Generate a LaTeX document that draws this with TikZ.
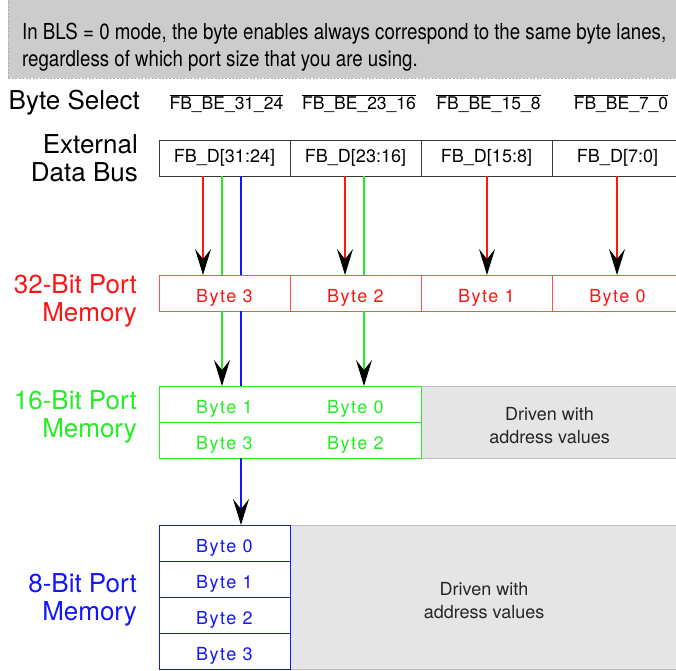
\documentclass[tikz,border=0pt]{standalone}
\usepackage{fontspec}
\setmainfont{TeX Gyre Heros}
\newfontfamily\narrowfont[FakeStretch=0.85]{TeX Gyre Heros}
\newfontfamily\trackedfont[LetterSpace=8]{TeX Gyre Heros}
\usetikzlibrary{arrows.meta,positioning,backgrounds}
\definecolor{PortRed}{HTML}{FF1414}
\definecolor{PortGreen}{HTML}{22EE22}
\definecolor{PortBlue}{HTML}{1414FF}
\definecolor{BusLine}{HTML}{3A3A3A}
\definecolor{NoteGray}{HTML}{CCCCCC}
\definecolor{NoteEdge}{HTML}{AFAFAF}
\definecolor{DrivenGray}{HTML}{E5E5E5}
\definecolor{DrivenEdge}{HTML}{BDBDBD}
\tikzset{
  cell/.style={minimum width=131pt,minimum height=36pt,inner sep=0pt,outer sep=0pt},
  bus/.style={cell,draw=BusLine,line width=0.8pt,font=\fontsize{18}{20}\selectfont},
  byte/.style={cell,text height=18pt,text depth=0pt,font=\trackedfont\fontsize{18}{20}\selectfont},
  bytered/.style={byte,draw=PortRed!75,line width=1pt,text=PortRed},
  bytegreen/.style={byte,text=PortGreen},
  byteblue/.style={byte,draw=PortBlue,line width=1pt,text=PortBlue},
  driven/.style={fill=DrivenGray,draw=DrivenEdge,line width=0.8pt,inner sep=0pt,outer sep=0pt,
    align=center,text height=42pt,text depth=0pt,font=\fontsize{18}{23}\selectfont,text=black!85},
  banner/.style={fill=NoteGray,draw=NoteEdge,dash pattern=on 2pt off 1.5pt,inner sep=0pt},
  sidelabel/.style={anchor=east,align=right,inner sep=0pt,font=\fontsize{26}{28}\selectfont},
  besel/.style={inner sep=0pt,font=\fontsize{17.5}{20}\selectfont},
  wire/.style={line width=1.3pt},
  wirearrow/.style={wire,-{Stealth[length=26pt,width=16pt,inset=10pt,color=black]}}
}
\begin{document}
\begin{tikzpicture}[x=1pt,y=-1pt]
  \useasboundingbox (0,0) rectangle (676,670);
  \node[banner,anchor=north west,minimum width=672pt,minimum height=80pt] (note) at (8,-2) {};
  \node[anchor=west,align=left,inner sep=0pt,font=\narrowfont\fontsize{22}{27}\selectfont] (notetext) at (22,47)
    {In BLS = 0 mode, the byte enables always correspond to the same byte lanes,\\regardless of which port size that you are using.};

  \node[sidelabel] (bselect) at (140,103) {Byte Select};
  \node[besel] (be1) at (226.5,104) {$\overline{\mbox{FB\_BE\_31\_24}}$};
  \node[besel] (be2) at (359,104) {$\overline{\mbox{FB\_BE\_23\_16}}$};
  \node[besel] (be3) at (488.5,104) {$\overline{\mbox{FB\_BE\_15\_8}}$};
  \node[besel] (be4) at (621,104) {$\overline{\mbox{FB\_BE\_7\_0}}$};

  \node[sidelabel] (extbus) at (138,158) {External\\Data Bus};
  \node[bus] (bus1) at (224.5,158) {FB\_D[31:24]};
  \node[bus,right=0pt of bus1] (bus2) {FB\_D[23:16]};
  \node[bus,right=0pt of bus2] (bus3) {FB\_D[15:8]};
  \node[bus,right=0pt of bus3] (bus4) {FB\_D[7:0]};

  \node[sidelabel,text=PortRed] (mem32) at (137,301) {32-Bit Port\\Memory};
  \node[bytered] (p32a) at (224.5,293) {Byte 3};
  \node[bytered,right=0pt of p32a] (p32b) {Byte 2};
  \node[bytered,right=0pt of p32b] (p32c) {Byte 1};
  \node[bytered,right=0pt of p32c] (p32d) {Byte 0};

  \node[sidelabel,text=PortGreen] (mem16) at (137,417) {16-Bit Port\\Memory};
  \node[bytegreen] (p16a) at (224.5,404) {Byte 1};
  \node[bytegreen,right=0pt of p16a] (p16b) {Byte 0};
  \node[bytegreen,below=0pt of p16a] (p16c) {Byte 3};
  \node[bytegreen,right=0pt of p16c] (p16d) {Byte 2};
  \begin{scope}[on background layer]
    \node[driven,anchor=north west,minimum width=257pt,minimum height=72pt] (fill16) at (p16b.north east)
      {Driven with\\address values};
  \end{scope}
  \draw[line width=1pt,PortGreen] (p16a.north west) rectangle (p16d.south east);
  \draw[line width=1pt,PortGreen] (p16c.north west) -- (p16d.north east);

  \node[sidelabel,text=PortBlue] (mem8) at (137,600) {8-Bit Port\\Memory};
  \node[byteblue] (p8a) at (224.5,543) {Byte 0};
  \node[byteblue,below=0pt of p8a] (p8b) {Byte 1};
  \node[byteblue,below=0pt of p8b] (p8c) {Byte 2};
  \node[byteblue,below=0pt of p8c] (p8d) {Byte 3};
  \begin{scope}[on background layer]
    \node[driven,anchor=north west,minimum width=388pt,minimum height=144pt] (fill8) at (p8a.north east)
      {Driven with\\address values};
  \end{scope}

  \draw[wirearrow,PortRed] ([xshift=-21.5pt]bus1.south) -- ([xshift=-21.5pt]p32a.north);
  \draw[wire,PortGreen] ([xshift=-2.5pt]bus1.south) -- ([xshift=-2.5pt]p32a.north);
  \draw[wirearrow,PortGreen] ([xshift=-2.5pt]p32a.south) -- ([xshift=-2.5pt]p16a.north);
  \draw[wire,PortBlue] ([xshift=16.5pt]bus1.south) -- ([xshift=16.5pt]p32a.north);
  \draw[wire,PortBlue] ([xshift=16.5pt]p32a.south) -- ([xshift=16.5pt]p16a.north);
  \draw[wirearrow,PortBlue] ([xshift=16.5pt]p16c.south) -- ([xshift=16.5pt]p8a.north);
  \draw[wirearrow,PortRed] ([xshift=-10.5pt]bus2.south) -- ([xshift=-10.5pt]p32b.north);
  \draw[wire,PortGreen] ([xshift=8.5pt]bus2.south) -- ([xshift=8.5pt]p32b.north);
  \draw[wirearrow,PortGreen] ([xshift=8.5pt]p32b.south) -- ([xshift=8.5pt]p16b.north);
  \draw[wirearrow,PortRed] ([xshift=0.5pt]bus3.south) -- ([xshift=0.5pt]p32c.north);
  \draw[wirearrow,PortRed] ([xshift=-0.5pt]bus4.south) -- ([xshift=-0.5pt]p32d.north);
\end{tikzpicture}
\end{document}
